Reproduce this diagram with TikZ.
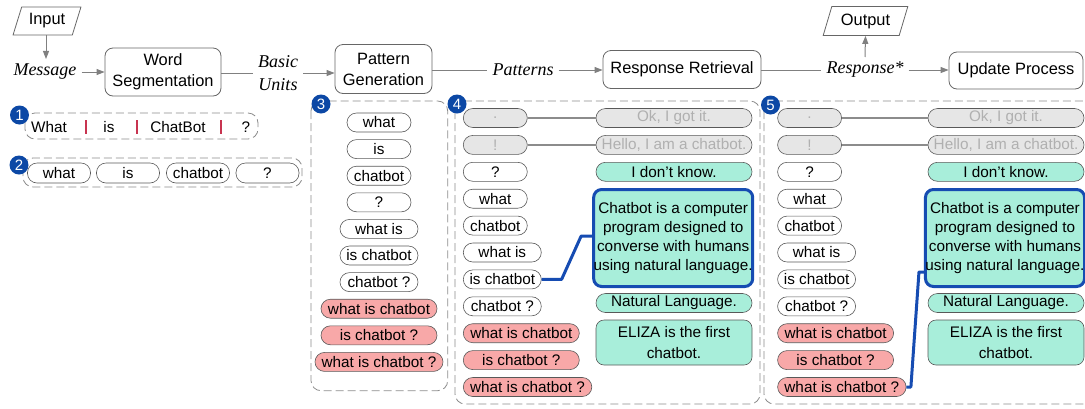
\documentclass[tikz,border=0pt]{standalone}
\usepackage{fontspec}
\setmainfont{Liberation Sans}
\newfontfamily\lblserif{Liberation Serif}
\usetikzlibrary{shapes.geometric,arrows.meta}
\definecolor{pillred}{RGB}{248,168,168}
\definecolor{pillteal}{RGB}{168,238,218}
\definecolor{pillgray}{RGB}{230,230,230}
\definecolor{graytext}{RGB}{176,176,176}
\definecolor{connblue}{RGB}{22,76,178}
\definecolor{badgeblue}{RGB}{12,72,165}
\definecolor{barred}{RGB}{200,52,80}
\begin{document}
\begin{tikzpicture}[x=1pt,y=-1pt,
  mainbox/.style={draw=black!60, line width=0.8pt, rounded corners=8pt, align=center, font=\fontsize{16.4}{21}\selectfont, inner sep=0pt},
  io/.style={draw=black!60, line width=0.8pt, trapezium, trapezium left angle=67, trapezium right angle=113, trapezium stretches=true, font=\fontsize{16.4}{21}\selectfont, inner sep=0pt},
  lbl/.style={font=\lblserif\itshape\fontsize{18}{23}\selectfont, align=center, inner sep=5pt},
  flow/.style={draw=black!50, line width=1pt},
  flowarr/.style={flow, -{Triangle[length=8pt,width=6pt]}},
  pill/.style={draw=black!65, line width=0.6pt, rounded corners=9.5pt, minimum height=19pt, inner sep=0pt, font=\fontsize{15.3}{19}\selectfont},
  redp/.style={pill, fill=pillred},
  grayp/.style={pill, fill=pillgray, text=graytext},
  tealp/.style={pill, fill=pillteal},
  frame/.style={draw=black!45, dash pattern=on 8pt off 4pt, rounded corners=10pt, line width=0.8pt},
  badge/.style={circle, fill=badgeblue, text=white, minimum size=19pt, inner sep=0pt, font=\fontsize{15}{15}\selectfont},
  bigbox/.style={draw=connblue, line width=3pt, fill=pillteal, rounded corners=8pt, align=center, font=\fontsize{15.3}{19}\selectfont, minimum width=155pt, minimum height=97pt, inner sep=0pt},
  elizabox/.style={draw=black!65, line width=0.6pt, fill=pillteal, rounded corners=8pt, align=center, font=\fontsize{15.3}{20.7}\selectfont, minimum width=156pt, minimum height=45pt, inner sep=0pt},
  wordtxt/.style={font=\fontsize{15.3}{19}\selectfont, inner sep=0pt},
  redbar/.style={draw=barred, line width=1.3pt},
  blueconn/.style={draw=connblue, line width=3pt, line join=round},
  grayconn/.style={draw=black!45, line width=1.2pt}
]
\useasboundingbox (0,0) rectangle (1085,408);

% ---- main flow ----
\node[io, minimum width=68pt, minimum height=28pt] (in) at (47,21) {Input};
\node[lbl] (msg) at (45,72) {Message};
\node[mainbox, minimum width=116pt, minimum height=48pt] (ws) at (163,72) {Word\\Segmentation};
\node[lbl] (bu) at (278,73) {Basic\\Units};
\node[mainbox, minimum width=97pt, minimum height=49pt] (pg) at (383.5,69) {Pattern\\Generation};
\node[lbl] (pat) at (523,70) {Patterns};
\node[mainbox, minimum width=158pt, minimum height=38pt] (rr) at (682,69.5) {Response Retrieval};
\node[lbl] (resp) at (865,70) {Response*};
\node[io, minimum width=85pt, minimum height=29pt] (out) at (865.5,21) {Output};
\node[mainbox, minimum width=134pt, minimum height=37pt] (up) at (1016,70.5) {Update Process};

\draw[flowarr] (in.south -| 46,0) -- (msg.north -| 46,0);
\draw[flowarr] (msg.east) -- (ws.west |- msg.east);
\draw[flow] (bu.west -| ws.east) -- (bu.west);
\draw[flowarr] (bu.east) -- (bu.east -| pg.west);
\draw[flow] (pat.west -| pg.east) -- (pat.west);
\draw[flowarr] (pat.east) -- (pat.east -| rr.west);
\draw[flow] (resp.west -| rr.east) -- (resp.west);
\draw[flowarr] (resp.east) -- (resp.east -| up.west);
\draw[flowarr] (resp.north) -- (out.south);

% ---- section 1 ----
\draw[frame] (25,113) rectangle (258,139);
\node[wordtxt] (w1) at (49,127) {What};
\node[wordtxt] (w2) at (109,127) {is};
\node[wordtxt] (w3) at (178,127) {ChatBot};
\node[wordtxt] (w4) at (246,127) {?};
\draw[redbar] (86,120) -- (86,134);
\draw[redbar] (137,120) -- (137,134);
\draw[redbar] (221,120) -- (221,134);
\node[badge] (b1) at (19.5,115) {1};

% ---- section 2 ----
\draw[frame] (23,158) rectangle (302,187);
\node[pill, minimum width=63pt, minimum height=20pt] (u1) at (59,173) {what};
\node[pill, minimum width=63pt, minimum height=20pt] (u2) at (128,173) {is};
\node[pill, minimum width=63pt, minimum height=20pt] (u3) at (198,173) {chatbot};
\node[pill, minimum width=63pt, minimum height=20pt] (u4) at (267.5,173) {?};
\node[badge] (b2) at (19,165) {2};

% ---- section 3 ----
\draw[frame] (311,101) rectangle (447.7,390.7);
\node[pill, minimum width=64pt] (p1) at (379,122.5) {what};
\node[pill, minimum width=64pt] (p2) at (379,149.1) {is};
\node[pill, minimum width=64pt] (p3) at (379,175.7) {chatbot};
\node[pill, minimum width=64pt] (p4) at (379,202.3) {?};
\node[pill, minimum width=78pt] (p5) at (379,228.9) {what is};
\node[pill, minimum width=78pt] (p6) at (379,255.5) {is chatbot};
\node[pill, minimum width=78pt] (p7) at (379,282.1) {chatbot ?};
\node[redp, minimum width=116pt] (p8) at (379,308.7) {what is chatbot};
\node[redp, minimum width=116pt] (p9) at (379,335.3) {is chatbot ?};
\node[redp, minimum width=128pt] (p10) at (379,361.9) {what is chatbot ?};
\node[badge] (b3) at (321,104) {3};

% ---- sections 4 and 5 ----
\draw[frame] (455,101) rectangle (760,404);
\draw[frame] (764,101) rectangle (1100,404);
\foreach \s/\x/\rc/\bc in {4/463/674/673.2, 5/777.3/1006/1005}{
  \node[grayp, minimum width=64pt, anchor=west] (l\s-1) at (\x,118) {.};
  \node[grayp, minimum width=64pt, anchor=west] (l\s-2) at (\x,144.9) {!};
  \node[pill, minimum width=64pt, anchor=west] (l\s-3) at (\x,171.8) {?};
  \node[pill, minimum width=64pt, anchor=west] (l\s-4) at (\x,198.7) {what};
  \node[pill, minimum width=64pt, anchor=west] (l\s-5) at (\x,225.6) {chatbot};
  \node[pill, minimum width=78pt, anchor=west] (l\s-6) at (\x,252.5) {what is};
  \node[pill, minimum width=78pt, anchor=west] (l\s-7) at (\x,279.4) {is chatbot};
  \node[pill, minimum width=78pt, anchor=west] (l\s-8) at (\x,306.3) {chatbot ?};
  \node[redp, minimum width=116pt, anchor=west] (l\s-9) at (\x,333.2) {what is chatbot};
  \node[redp, minimum width=116pt, anchor=west] (l\s-10) at (\x,360.1) {is chatbot ?};
  \node[redp, minimum width=128.5pt, anchor=west] (l\s-11) at (\x,387) {what is chatbot ?};
  \node[grayp, minimum width=156pt] (r\s-1) at (\rc,118) {Ok, I got it.};
  \node[grayp, minimum width=156pt] (r\s-2) at (\rc,144.9) {Hello, I am a chatbot.};
  \node[tealp, minimum width=156pt] (r\s-3) at (\rc,171.8) {I don’t know.};
  \node[bigbox] (big\s) at (\bc,238) {Chatbot is a computer\\program designed to\\converse with humans\\using natural language.};
  \node[tealp, minimum width=156pt] (r\s-5) at (\rc,303) {Natural Language.};
  \node[elizabox] (r\s-6) at (\rc,342.5) {ELIZA is the first\\chatbot.};
  \draw[grayconn] (l\s-1.east) -- (r\s-1.west);
  \draw[grayconn] (l\s-2.east) -- (r\s-2.west);
}
\draw[blueconn] (l4-7.east) -- ++(20,0) -- ([xshift=-11pt,yshift=2pt]big4.west) -- ([yshift=2pt]big4.west);
\draw[blueconn] (l5-11.east) -- ++(4.5,0) -- ([xshift=-5pt,yshift=-34pt]big5.west) -- ([yshift=-34pt]big5.west);
\node[badge] (b4) at (457,104) {4};
\node[badge] (b5) at (770.5,105) {5};
\end{tikzpicture}
\end{document}
